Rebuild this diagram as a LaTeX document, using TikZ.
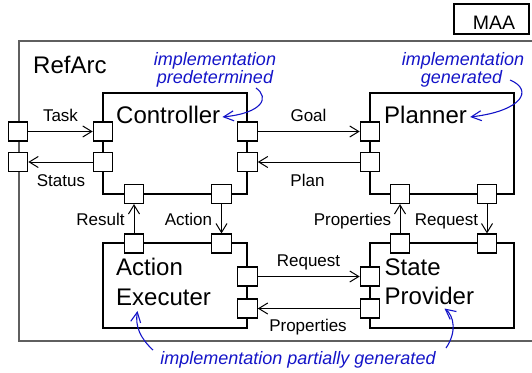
\documentclass[tikz,border=0pt]{standalone}
\usepackage{fontspec}
\setmainfont{Liberation Sans}
\usetikzlibrary{arrows.meta}
\definecolor{notecol}{RGB}{20,20,200}
\definecolor{framegray}{RGB}{95,95,95}

\begin{document}
\begin{tikzpicture}[x=1pt,y=-1pt,
  comp/.style={draw,line width=1.1pt,minimum width=144pt,inner sep=0pt},
  port/.style={draw,fill=white,line width=1.1pt,minimum width=19.5pt,minimum height=19pt,inner sep=0pt},
  conn/.style={line width=1pt,-{Straight Barb[length=9pt,width=11pt]}},
  lbl/.style={font=\fontsize{17}{20}\selectfont,inner sep=0pt,anchor=base},
  big/.style={font=\fontsize{24}{28}\selectfont,inner sep=0pt,anchor=base west},
  note/.style={font=\fontsize{18}{20}\selectfont\itshape,text=notecol,inner sep=0pt,anchor=base},
  notearrow/.style={draw=notecol,line width=1.1pt,-{Straight Barb[length=10pt,width=10pt]}}]

\path[use as bounding box] (0,0) rectangle (532,372);
\clip (0,0) rectangle (532,372);

% package tab
\node[draw,line width=1.1pt,minimum width=75pt,minimum height=30pt,inner sep=0pt] (maa) at (491.5,19) {};
\node[font=\fontsize{19.5}{22}\selectfont,inner sep=0pt,anchor=base] (maatext) at (494,29) {MAA};

% enclosing RefArc frame
\draw[framegray,line width=2pt] (545,41) -- (18.5,41) -- (18.5,341) -- (545,341);
\node[big] (refarc) at (33,73) {RefArc};

% components
\node[comp,minimum height=101pt] (controller) at (175,143.5) {};
\node[comp,minimum height=101pt] (planner) at (442,143.5) {};
\node[comp,minimum height=85pt] (executer) at (175,285.5) {};
\node[comp,minimum height=85pt] (provider) at (442,285.5) {};

\node[big] (ctrltext) at (116,123) {Controller};
\node[big] (plantext) at (384,123) {Planner};
\node[big] (exectext1) at (116,275) {Action};
\node[big] (exectext2) at (116,305) {Executer};
\node[big] (provtext1) at (384.5,275) {State};
\node[big] (provtext2) at (384.5,304) {Provider};

% ports
\node[port] (rtask) at (18,131.5) {};
\node[port] (rstatus) at (18,162) {};
\node[port] (ctask) at (103,131.5) {};
\node[port] (cstatus) at (103,162) {};
\node[port] (cgoal) at (247.5,131.5) {};
\node[port] (cplan) at (247.5,162) {};
\node[port] (cresult) at (134,194) {};
\node[port] (caction) at (221.5,194) {};
\node[port] (pgoal) at (370,131.5) {};
\node[port] (pplan) at (370,162) {};
\node[port] (pprop) at (400,194) {};
\node[port] (preq) at (487,194) {};
\node[port] (eresult) at (134,243.5) {};
\node[port] (eaction) at (221.5,243.5) {};
\node[port] (ereq) at (247.5,276.5) {};
\node[port] (eprop) at (247.5,308.5) {};
\node[port] (sprop) at (400,243.5) {};
\node[port] (sreq) at (487,243.5) {};
\node[port] (sreqin) at (370,276.5) {};
\node[port] (spropout) at (370,308.5) {};

% connectors
\draw[conn] (rtask.east) -- (ctask.west);
\draw[conn] (cstatus.west) -- (rstatus.east);
\draw[conn] (cgoal.east) -- (pgoal.west);
\draw[conn] (pplan.west) -- (cplan.east);
\draw[conn] (eresult.north) -- (cresult.south);
\draw[conn] (caction.south) -- (eaction.north);
\draw[conn] (sprop.north) -- (pprop.south);
\draw[conn] (preq.south) -- (sreq.north);
\draw[conn] (ereq.east) -- (sreqin.west);
\draw[conn] (spropout.west) -- (eprop.east);

% connector labels
\node[lbl] (ltask) at (60.5,121) {Task};
\node[lbl] (lstatus) at (61,186) {Status};
\node[lbl] (lgoal) at (308.5,121) {Goal};
\node[lbl] (lplan) at (307.5,186.5) {Plan};
\node[lbl] (lresult) at (100.5,225.5) {Result};
\node[lbl] (laction) at (188.5,225.5) {Action};
\node[lbl] (lpropup) at (352.5,225.5) {Properties};
\node[lbl] (lrequp) at (446.5,225.5) {Request};
\node[lbl] (lreqmid) at (308.5,266.5) {Request};
\node[lbl] (lpropbot) at (308,331) {Properties};

% implementation notes
\node[note] (pre1) at (215,65) {implementation};
\node[note] (pre2) at (215,83) {predetermined};
\node[note] (gen1) at (463,65) {implementation};
\node[note] (gen2) at (461.5,83) {generated};
\node[note] (part) at (298,364) {implementation partially generated};

\coordinate (npre) at (256,88);
\coordinate (ngen) at (510,80);
\coordinate (npart1) at (153,350);
\coordinate (npart2) at (446,348);

\draw[notearrow] (npre) .. controls (270,98) and (262,113) .. ([shift={(2,-6)}]ctrltext.base east);
\draw[notearrow] (ngen) .. controls (534,90) and (522,111) .. ([shift={(3,-6)}]plantext.base east);
\draw[notearrow] (npart1) .. controls (140,338) and (135,326) .. (137.5,311);
\draw[notearrow] (npart2) .. controls (457,332) and (454,316) .. (444.5,308.5);
\end{tikzpicture}
\end{document}
